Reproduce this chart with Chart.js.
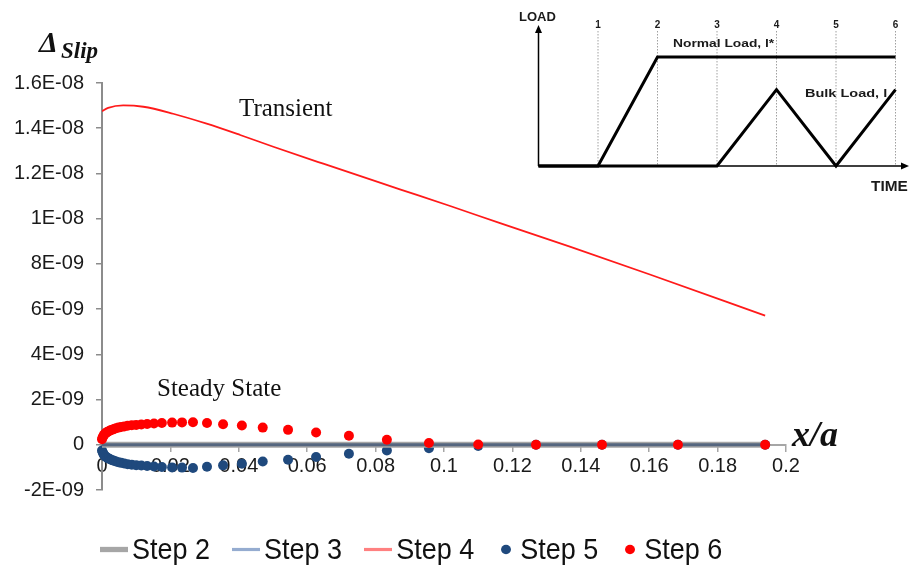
<!DOCTYPE html>
<html>
<head>
<meta charset="utf-8">
<script src="https://cdn.jsdelivr.net/npm/chart.js@4.4.0/dist/chart.umd.min.js"></script>
<style>
    body { margin: 0; background: #fff; }
    #wrap { position: relative; width: 909px; height: 567px; }
    #legend {
        position: absolute; left: 100px; top: 534px;
        display: flex; align-items: center;
        font-family: 'Liberation Sans', Arial, sans-serif; font-size: 27px; color: #111;
        transform: scaleY(1.06); transform-origin: 0 50%;
    }
    .item { display: flex; align-items: center; margin-right: 22px; }
    .mark { display: inline-block; margin-right: 4px; }
</style>
</head>
<body>
<div id="wrap">
    <canvas id="chart" width="909" height="567"></canvas>
    <div id="legend"></div>
</div>
<script>
// y values are in units of 1E-09
let dotX = [0, 0.0002, 0.0004, 0.0006, 0.0008, 0.0011, 0.0014, 0.0017, 0.0021, 0.0025,
    0.0030, 0.0035, 0.0041, 0.0048, 0.0056, 0.0065, 0.0075, 0.0087, 0.0100, 0.0115,
    0.0132, 0.0152, 0.0175, 0.0205, 0.0234, 0.0266, 0.0307, 0.0354, 0.0409, 0.0470,
    0.0544, 0.0626, 0.0722, 0.0833, 0.0956, 0.1100, 0.1269, 0.1462, 0.1684, 0.1939];
let step5Y = [-0.25, -0.33, -0.40, -0.45, -0.49, -0.53, -0.56, -0.59, -0.62, -0.65,
    -0.68, -0.71, -0.74, -0.77, -0.80, -0.83, -0.86, -0.88, -0.90, -0.92,
    -0.94, -0.96, -0.98, -1.00, -1.01, -1.03, -0.97, -0.91, -0.84, -0.74,
    -0.66, -0.54, -0.40, -0.25, -0.15, -0.05, 0, 0, 0, 0];
let step6Y = [0.25, 0.33, 0.39, 0.44, 0.48, 0.52, 0.55, 0.58, 0.61, 0.64,
    0.67, 0.70, 0.73, 0.76, 0.79, 0.81, 0.84, 0.86, 0.88, 0.90,
    0.92, 0.94, 0.96, 0.98, 0.99, 1.00, 0.96, 0.91, 0.85, 0.76,
    0.66, 0.54, 0.40, 0.22, 0.08, 0.01, 0, 0, 0, 0];
let transX = [0, 0.0018, 0.0062, 0.0121, 0.0208, 0.0306, 0.0404, 0.0501, 0.0647, 0.0871,
    0.1018, 0.1164, 0.1368, 0.1602, 0.1939];
let step4Y = [14.75, 14.90, 15.01, 14.95, 14.64, 14.20, 13.70, 13.18, 12.43, 11.30,
    10.56, 9.80, 8.76, 7.53, 5.71];
let flatX = [0, 0.1939];
let step2Y = [0, 0];
let step3Y = [0, 0];

let xTicks = [0, 0.02, 0.04, 0.06, 0.08, 0.1, 0.12, 0.14, 0.16, 0.18, 0.2];
let xTickLabels = ['0', '0.02', '0.04', '0.06', '0.08', '0.1', '0.12', '0.14', '0.16', '0.18', '0.2'];
let yTicks = [-2, 0, 2, 4, 6, 8, 10, 12, 14, 16];
let yTickLabels = ['-2E-09', '0', '2E-09', '4E-09', '6E-09', '8E-09', '1E-08', '1.2E-08', '1.4E-08', '1.6E-08'];

// inset load diagram
let loadTimes = [0, 1, 2, 3, 4, 5, 6];
let normalLoad = [0, 0, 1, 1, 1, 1, 1];
let bulkLoad = [0, 0, 0, 0, 0.7, 0, 0.7];

let legendMarks = [
    { type: 'line', color: '#a6a6a6', width: 5 },
    { type: 'line', color: '#95acd0', width: 3 },
    { type: 'line', color: '#ff8080', width: 3 },
    { type: 'dot', color: '#1f497d' },
    { type: 'dot', color: '#ff0000' }
];

function pts(xs, ys) {
    return xs.map((x, i) => ({ x: x, y: ys[i] }));
}

function wideText(ctx, text, x, y, sx) {
    ctx.save();
    ctx.translate(x, y);
    ctx.scale(sx, 1);
    ctx.fillText(text, 0, 0);
    ctx.restore();
}

function drawInset(ctx) {
    const x0 = 538.5, dx = 59.5, base = 166, h = 109;
    const px = t => x0 + t * dx;
    const py = v => base - v * h;

    ctx.save();
    ctx.strokeStyle = '#a0a0a0';
    ctx.lineWidth = 1;
    ctx.setLineDash([1.5, 1.5]);
    loadTimes.slice(1).forEach(t => {
        ctx.beginPath();
        ctx.moveTo(px(t), 31);
        ctx.lineTo(px(t), base);
        ctx.stroke();
    });
    ctx.setLineDash([]);

    // axes with arrows
    ctx.strokeStyle = '#000';
    ctx.fillStyle = '#000';
    ctx.lineWidth = 1.5;
    ctx.beginPath();
    ctx.moveTo(px(0), base);
    ctx.lineTo(px(0), 30);
    ctx.moveTo(px(0), base);
    ctx.lineTo(904, base);
    ctx.stroke();
    ctx.beginPath();
    ctx.moveTo(px(0), 25); ctx.lineTo(px(0) - 3.5, 33); ctx.lineTo(px(0) + 3.5, 33); ctx.closePath();
    ctx.moveTo(909, base); ctx.lineTo(901, base - 3.5); ctx.lineTo(901, base + 3.5); ctx.closePath();
    ctx.fill();

    ctx.lineWidth = 3;
    ctx.lineJoin = 'miter';
    [normalLoad, bulkLoad].forEach(series => {
        ctx.beginPath();
        series.forEach((v, i) => {
            if (i == 0) ctx.moveTo(px(loadTimes[i]), py(v));
            else ctx.lineTo(px(loadTimes[i]), py(v));
        });
        ctx.stroke();
    });

    ctx.fillStyle = '#1a1a1a';
    ctx.font = 'bold 10px "Liberation Sans"';
    ctx.textAlign = 'center';
    ctx.textBaseline = 'middle';
    loadTimes.slice(1).forEach(t => ctx.fillText(String(t), px(t), 25));
    ctx.textAlign = 'left';
    wideText(ctx, 'Normal Load, l*', 673, 44, 1.38);
    wideText(ctx, 'Bulk Load, l', 805, 94, 1.45);
    ctx.font = 'bold 13px "Liberation Sans"';
    ctx.fillText('LOAD', 519, 17);
    ctx.font = 'bold 14px "Liberation Sans"';
    wideText(ctx, 'TIME', 871, 187, 1.1);
    ctx.restore();
}

const decor = {
    id: 'decor',
    afterDraw: (chart) => {
        const ctx = chart.ctx;
        ctx.save();
        ctx.fillStyle = '#111';
        ctx.textBaseline = 'alphabetic';
        ctx.textAlign = 'left';
        ctx.font = 'italic bold 30px "Liberation Serif"';
        ctx.fillText('\u0394', 39, 52);
        ctx.font = 'italic bold 23px "Liberation Serif"';
        ctx.fillText('Slip', 61, 58);
        ctx.font = 'italic bold 36px "Liberation Serif"';
        ctx.fillText('x/a', 792, 446);
        ctx.font = '25px "Liberation Serif"';
        ctx.fillText('Transient', 239, 116);
        ctx.fillText('Steady State', 157, 396);
        ctx.restore();
        drawInset(ctx);
    }
};

Chart.defaults.font.family = "'Liberation Sans', Arial, sans-serif";

let data = {
    datasets: [
        {
            label: 'Step 2', type: 'line', data: pts(flatX, step2Y),
            borderColor: '#a6a6a6', borderWidth: 6, pointRadius: 0, order: 2
        },
        {
            label: 'Step 3', type: 'line', data: pts(flatX, step3Y),
            borderColor: '#55667f', borderWidth: 3, pointRadius: 0, order: 1
        },
        {
            label: 'Step 4', type: 'line', data: pts(transX, step4Y),
            borderColor: '#ff1a1a', borderWidth: 1.8, pointRadius: 0,
            cubicInterpolationMode: 'monotone', order: 1
        },
        {
            label: 'Step 5', type: 'scatter', data: pts(dotX, step5Y), clip: false,
            backgroundColor: '#1f497d', borderWidth: 0, pointRadius: 5, order: 3
        },
        {
            label: 'Step 6', type: 'scatter', data: pts(dotX, step6Y), clip: false,
            backgroundColor: '#ff0000', borderWidth: 0, pointRadius: 5, order: 0
        }
    ]
};

const config = {
    type: 'scatter',
    data: data,
    options: {
        responsive: false,
        animation: false,
        devicePixelRatio: 1,
        layout: { padding: { top: 83, right: 123, bottom: 77, left: 0 } },
        plugins: { legend: { display: false }, tooltip: { enabled: false } },
        scales: {
            x: {
                type: 'linear',
                position: { y: 0 },
                min: 0, max: 0.2,
                afterBuildTicks: (s) => { s.ticks = xTicks.map(v => ({ value: v })); },
                ticks: {
                    autoSkip: false, maxRotation: 0, padding: 4,
                    color: '#1a1a1a', font: { size: 20 },
                    callback: (value, index) => xTickLabels[index]
                },
                grid: { drawOnChartArea: false, color: '#a6a6a6', tickLength: 6, lineWidth: 1.5 },
                border: { color: '#a6a6a6', width: 2 }
            },
            y: {
                type: 'linear',
                min: -2, max: 16,
                afterBuildTicks: (s) => { s.ticks = yTicks.map(v => ({ value: v })); },
                afterFit: (s) => { s.width = 102; },
                ticks: {
                    autoSkip: false, padding: 12,
                    color: '#1a1a1a', font: { size: 20 },
                    callback: (value, index) => yTickLabels[index]
                },
                grid: { drawOnChartArea: false, color: '#8c8c8c', tickLength: 6, lineWidth: 1.5 },
                border: { color: '#8c8c8c', width: 2 }
            }
        }
    },
    plugins: [decor]
};

let chart = new Chart(document.getElementById('chart'), config);

// legend
let legend = document.getElementById('legend');
chart.data.datasets.forEach((ds, i) => {
    let m = legendMarks[i];
    let item = document.createElement('span');
    item.className = 'item';
    let mark = document.createElement('span');
    mark.className = 'mark';
    if (m.type == 'line') {
        mark.style.width = '28px';
        mark.style.height = m.width + 'px';
        mark.style.background = m.color;
    } else {
        mark.style.width = '10px';
        mark.style.height = '9px';
        mark.style.borderRadius = '50%';
        mark.style.background = m.color;
        mark.style.margin = '0 9px 0 5px';
    }
    item.appendChild(mark);
    item.appendChild(document.createTextNode(ds.label));
    legend.appendChild(item);
});
</script>
</body>
</html>
